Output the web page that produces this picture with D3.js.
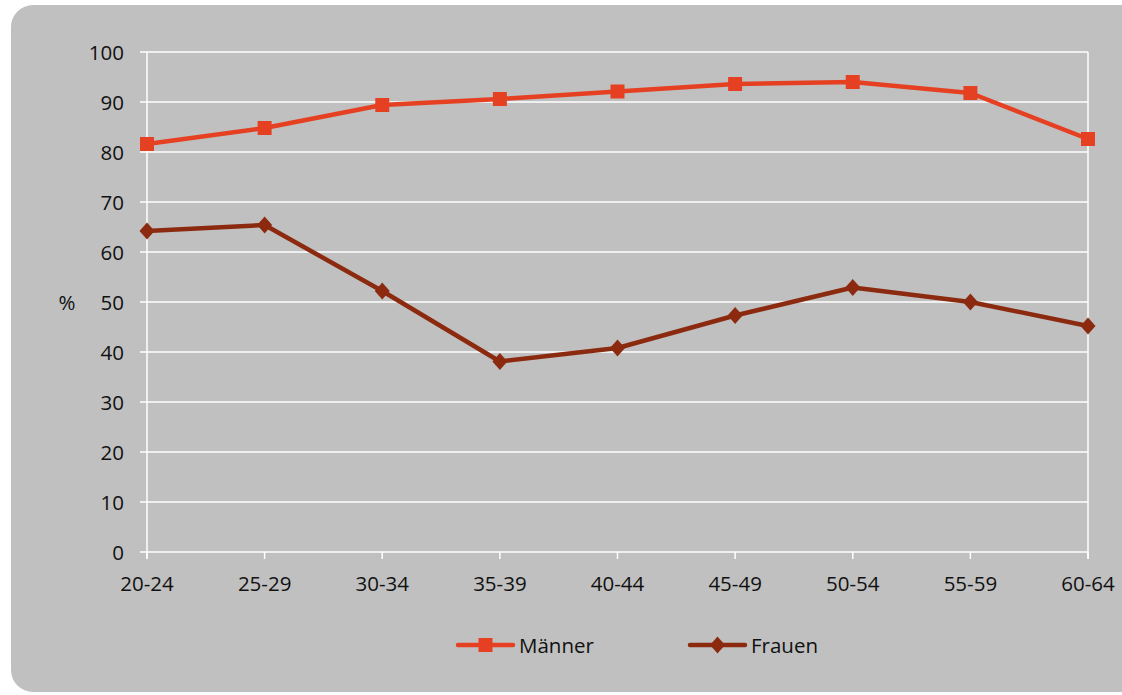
<!DOCTYPE html>
<html>
<head>
<meta charset="utf-8">
<script src="https://cdn.jsdelivr.net/npm/d3@7"></script>
<style>
  html, body { margin: 0; padding: 0; background: #ffffff; }
  svg { display: block; }
  text { font-family: "Open Sans", "Noto Sans", sans-serif; fill: #111; }
</style>
</head>
<body>
<script>
// Erwerbsquote nach Altersgruppen
const categories = ["20-24", "25-29", "30-34", "35-39", "40-44", "45-49", "50-54", "55-59", "60-64"];
const maenner = [81.6, 84.8, 89.4, 90.6, 92.1, 93.6, 94.0, 91.8, 82.6];
const frauen = [64.2, 65.4, 52.2, 38.1, 40.8, 47.3, 52.9, 50.0, 45.2];
const yTicks = [0, 10, 20, 30, 40, 50, 60, 70, 80, 90, 100];
const seriesNames = ["Männer", "Frauen"];

const W = 1122, H = 695;
const plotLeft = 147, plotRight = 1088, plotTop = 52, plotBottom = 552;
const colM = "#E64023", colF = "#8C2A10";
const fontSize = 20.5;

const svg = d3.select("body").append("svg").attr("width", W).attr("height", H);

// Hintergrundfläche
svg.append("rect")
  .attr("x", 11).attr("y", 5).attr("width", W - 11 + 20).attr("height", H - 5 - 3)
  .attr("rx", 22).attr("ry", 22)
  .attr("fill", "#C0C0C0");

const x = d3.scalePoint().domain(categories).range([plotLeft, plotRight]);
const y = d3.scaleLinear().domain([0, 100]).range([plotBottom, plotTop]);

// Gitterlinien
const grid = svg.append("g");
grid.selectAll("line.h").data(yTicks).join("line")
  .attr("x1", plotLeft - 7).attr("x2", plotRight)
  .attr("y1", d => y(d)).attr("y2", d => y(d))
  .attr("stroke", "#ffffff").attr("stroke-width", 1.5);
grid.append("line")
  .attr("x1", plotLeft).attr("x2", plotLeft).attr("y1", plotTop).attr("y2", plotBottom + 7)
  .attr("stroke", "#ffffff").attr("stroke-width", 1.5);
grid.append("line")
  .attr("x1", plotRight).attr("x2", plotRight).attr("y1", plotTop).attr("y2", plotBottom + 7)
  .attr("stroke", "#ffffff").attr("stroke-width", 1.5);
grid.selectAll("line.t").data(categories).join("line")
  .attr("x1", d => x(d)).attr("x2", d => x(d))
  .attr("y1", plotBottom).attr("y2", plotBottom + 7)
  .attr("stroke", "#ffffff").attr("stroke-width", 1.5);

// Achsenbeschriftungen
svg.append("g").selectAll("text").data(yTicks).join("text")
  .attr("x", plotLeft - 23).attr("y", d => y(d))
  .attr("text-anchor", "end").attr("dominant-baseline", "central")
  .attr("font-size", fontSize).text(d => d);
svg.append("g").selectAll("text").data(categories).join("text")
  .attr("x", d => x(d)).attr("y", plotBottom + 31)
  .attr("text-anchor", "middle").attr("dominant-baseline", "central")
  .attr("font-size", fontSize).text(d => d);
svg.append("text")
  .attr("x", 67).attr("y", y(50)).attr("text-anchor", "middle").attr("dominant-baseline", "central")
  .attr("font-size", fontSize).text("%");

const line = d3.line().x((d, i) => x(categories[i])).y(d => y(d));

function drawSeries(data, color, marker) {
  const g = svg.append("g");
  g.append("path").datum(data).attr("d", line)
    .attr("fill", "none").attr("stroke", color).attr("stroke-width", 4.5)
    .attr("stroke-linejoin", "round");
  g.selectAll("path.m").data(data).join("path")
    .attr("transform", (d, i) => `translate(${x(categories[i])},${y(d)})`)
    .attr("d", marker).attr("fill", color);
}

const square = d3.symbol().type(d3.symbolSquare).size(196)();
const diamond = "M0,-8.5L7.5,0L0,8.5L-7.5,0Z";

drawSeries(maenner, colM, square);
drawSeries(frauen, colF, diamond);

// Legende
const legend = svg.append("g");
const legItems = [
  { name: seriesNames[0], color: colM, marker: square, x0: 458 },
  { name: seriesNames[1], color: colF, marker: diamond, x0: 690 }
];
legItems.forEach(it => {
  legend.append("line").attr("x1", it.x0).attr("x2", it.x0 + 55)
    .attr("y1", 645).attr("y2", 645).attr("stroke", it.color).attr("stroke-width", 4.5)
    .attr("stroke-linecap", "round");
  legend.append("path").attr("transform", `translate(${it.x0 + 27.5},645)`)
    .attr("d", it.marker).attr("fill", it.color);
  legend.append("text").attr("x", it.x0 + 61).attr("y", 645)
    .attr("dominant-baseline", "central").attr("font-size", fontSize).text(it.name);
});
</script>
</body>
</html>
